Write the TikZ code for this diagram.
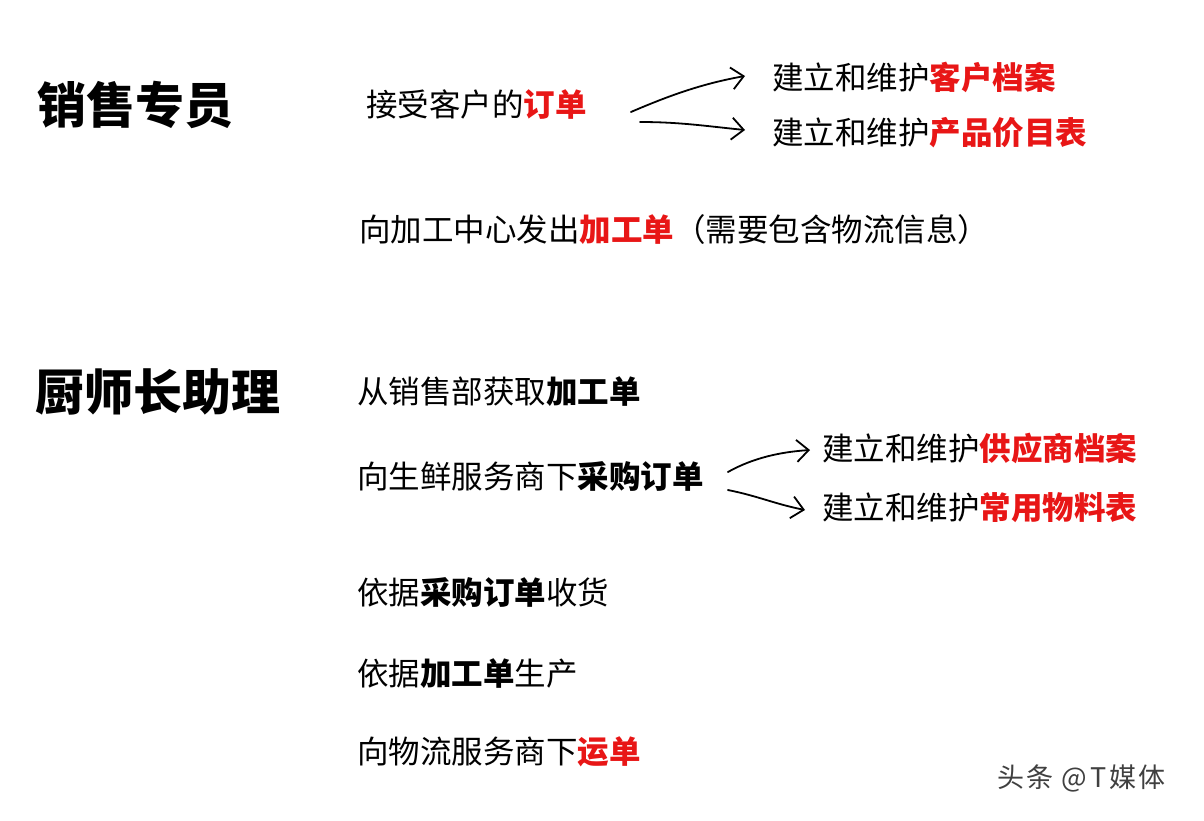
\documentclass[tikz,border=0pt]{standalone}
\usepackage{fontspec}
\usepackage{tikz}
\usetikzlibrary{arrows.meta}
\setmainfont{Noto Sans CJK SC}
\newfontfamily\markfont[LetterSpace=10]{Noto Sans CJK SC}
\definecolor{hlred}{RGB}{232,22,22}
\newcommand{\hl}[1]{{\bfseries\color{hlred}#1}}
\newcommand{\bk}[1]{{\bfseries #1}}
\tikzset{
  role/.style={anchor=west,inner sep=0pt,font=\fontsize{49}{54}\selectfont\bfseries},
  task/.style={anchor=west,inner sep=0pt,font=\fontsize{31.5}{36}\selectfont},
  arr/.style={line width=1.8pt,line cap=round,-{Straight Barb[length=12pt,width=22pt,line width=1.8pt]}}
}

\begin{document}
\begin{tikzpicture}[x=1pt,y=-1pt]
\useasboundingbox[fill=white] (0,0) rectangle (1204,820);
% sales
\node[role] (sales) at (37,105) {销售专员};
\node[task] (order) at (366,105) {接受客户的\hl{订单}};
\node[task] (cust) at (772,77) {建立和维护\hl{客户档案}};
\node[task] (price) at (772,133) {建立和维护\hl{产品价目表}};
\node[task] (proc) at (359,230) {向加工中心发出\hl{加工单}（需要包含物流信息）};
\draw[arr] ([xshift=44pt,yshift=-7pt]order.east) .. controls +(35,-15) and +(-45,8) .. ([xshift=-27pt,yshift=1pt]cust.west);
\draw[arr] ([xshift=53pt,yshift=-17pt]order.east) .. controls +(40,0) and +(-40,-4) .. ([xshift=-27pt,yshift=3pt]price.west);
% chef assistant
\node[role] (chef) at (35,392) {厨师长助理};
\node[task] (fetch) at (357,392) {从销售部获取\bk{加工单}};
\node[task] (buy) at (357,476) {向生鲜服务商下\bk{采购订单}};
\node[task] (supp) at (822,448) {建立和维护\hl{供应商档案}};
\node[task] (mat) at (822,508) {建立和维护\hl{常用物料表}};
\node[task] (recv) at (357,592) {依据\bk{采购订单}收货};
\node[task] (prod) at (357,674) {依据\bk{加工单}生产};
\node[task] (ship) at (357,752) {向物流服务商下\hl{运单}};
\draw[arr] ([xshift=24pt,yshift=4pt]buy.east) .. controls +(25,-14) and +(-30,2) .. ([xshift=-12pt,yshift=-2pt]supp.west);
\draw[arr] ([xshift=24pt,yshift=-14pt]buy.east) .. controls +(30,6) and +(-30,-6) .. ([xshift=-17pt,yshift=-2pt]mat.west);
% watermark
\node[anchor=west,inner sep=0pt,text=black!75,font=\markfont\fontsize{27}{30}\selectfont] (mark) at (997,778) {头条\hspace{8pt}@T媒体};
\end{tikzpicture}
\end{document}
